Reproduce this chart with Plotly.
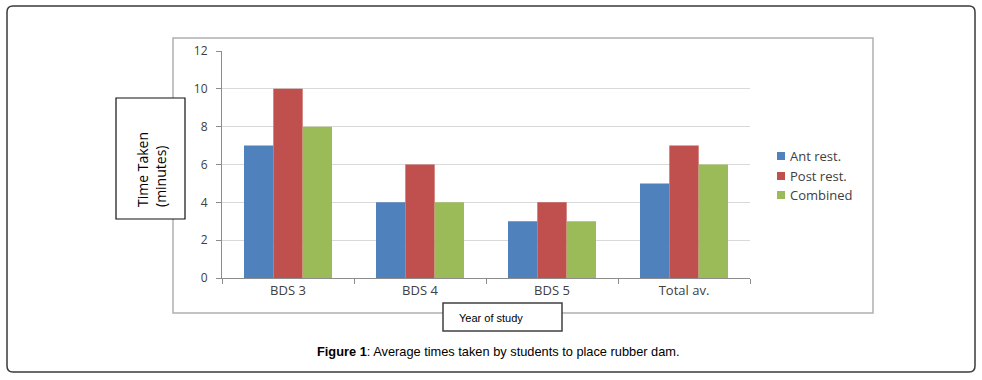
import plotly.graph_objects as go

categories = ["BDS 3", "BDS 4", "BDS 5", "Total av."]
series_names = ["Ant rest.", "Post rest.", "Combined"]
ant_rest = [7, 4, 3, 5]
post_rest = [10, 6, 4, 7]
combined = [8, 4, 3, 6]
series_values = [ant_rest, post_rest, combined]
colors = ["#4F81BD", "#C0504D", "#9BBB59"]
y_ticks = [0, 2, 4, 6, 8, 10, 12]

# plot area in pixels
L, R, T, B = 222, 750, 51, 278
W, H = R - L, B - T
FW, FH = 982, 380


def px(x):
    return (x - L) / W


def py(y):
    return (B - y) / H


fig = go.Figure()
for name, vals, col in zip(series_names, series_values, colors):
    fig.add_trace(go.Bar(x=categories, y=vals, name=name, marker_color=col,
                         marker_line_width=0, showlegend=False))

shapes = []


def rounded_rect(x0, y0, x1, y1, r):
    rx, ry = r / W, r / H
    X0, X1 = px(x0), px(x1)
    Y0, Y1 = py(y0), py(y1)  # Y0 top (larger), Y1 bottom
    return (f"M{X0+rx},{Y0} L{X1-rx},{Y0} Q{X1},{Y0} {X1},{Y0-ry} "
            f"L{X1},{Y1+ry} Q{X1},{Y1} {X1-rx},{Y1} L{X0+rx},{Y1} "
            f"Q{X0},{Y1} {X0},{Y1+ry} L{X0},{Y0-ry} Q{X0},{Y0} {X0+rx},{Y0} Z")


shapes.append(dict(type="path", xref="paper", yref="paper",
                   path=rounded_rect(7, 6, 975, 372, 6),
                   line=dict(color="#3a3a3a", width=1.5), layer="above"))
# chart frame
shapes.append(dict(type="rect", xref="paper", yref="paper",
                   x0=px(173), x1=px(873), y0=py(313), y1=py(38),
                   line=dict(color="#B0B0B0", width=1.5), layer="above"))
# y-title box
shapes.append(dict(type="rect", xref="paper", yref="paper",
                   x0=px(116), x1=px(185), y0=py(219), y1=py(98),
                   line=dict(color="#111111", width=1.2), fillcolor="white", layer="above"))
# x-title box
shapes.append(dict(type="rect", xref="paper", yref="paper",
                   x0=px(443), x1=px(562), y0=py(331), y1=py(303),
                   line=dict(color="#404040", width=1.5), fillcolor="white", layer="above"))

annotations = []
annotations.append(dict(xref="paper", yref="paper", x=px(151), y=py(170),
                        xanchor="center", yanchor="middle",
                        text="Time Taken<br>(minutes)", textangle=-90, showarrow=False,
                        align="left", font=dict(family="Open Sans", size=14, color="#000000")))
annotations.append(dict(xref="paper", yref="paper", x=px(457), y=py(318),
                        xanchor="left", yanchor="middle", text="Year of study", showarrow=False,
                        font=dict(family="Liberation Sans", size=11, color="#000000")))
annotations.append(dict(xref="paper", yref="paper", x=px(498), y=py(352),
                        xanchor="center", yanchor="middle",
                        text="<b>Figure 1</b>: Average times taken by students to place rubber dam.",
                        showarrow=False,
                        font=dict(family="Liberation Sans", size=12.8, color="#000000")))

# legend
leg_y = [156, 176, 195]
for name, col, yy in zip(series_names, colors, leg_y):
    shapes.append(dict(type="rect", xref="paper", yref="paper",
                       x0=px(777), x1=px(785), y0=py(yy + 4), y1=py(yy - 4),
                       line=dict(width=0), fillcolor=col, layer="above"))
    annotations.append(dict(xref="paper", yref="paper", x=px(788), y=py(yy),
                            xanchor="left", yanchor="middle", text=name, showarrow=False,
                            font=dict(family="Open Sans", size=13, color="#404040")))

fig.update_layout(
    width=FW, height=FH,
    margin=dict(l=L, r=FW - R, t=T, b=FH - B, pad=0),
    paper_bgcolor="white", plot_bgcolor="white",
    barmode="group", bargap=0.3333, bargroupgap=0,
    shapes=shapes, annotations=annotations,
    showlegend=False,
    xaxis=dict(showline=True, linecolor="#8C8C8C", linewidth=1,
               ticks="outside", tickson="boundaries", ticklen=5, tickcolor="#8C8C8C",
               tickfont=dict(family="Open Sans", size=13, color="#404040"),
               showgrid=False, fixedrange=True),
    yaxis=dict(range=[0, 12], tickvals=y_ticks, showline=True, linecolor="#8C8C8C", linewidth=1,
               ticks="outside", ticklen=5, tickcolor="#8C8C8C", ticklabelstandoff=6,
               tickfont=dict(family="Open Sans", size=12, color="#404040"),
               showgrid=True, gridcolor="#D9D9D9", gridwidth=1, zeroline=False, fixedrange=True),
)

fig.write_html("out.html", config={"displayModeBar": False},
               post_script="document.body.style.margin='0';")
